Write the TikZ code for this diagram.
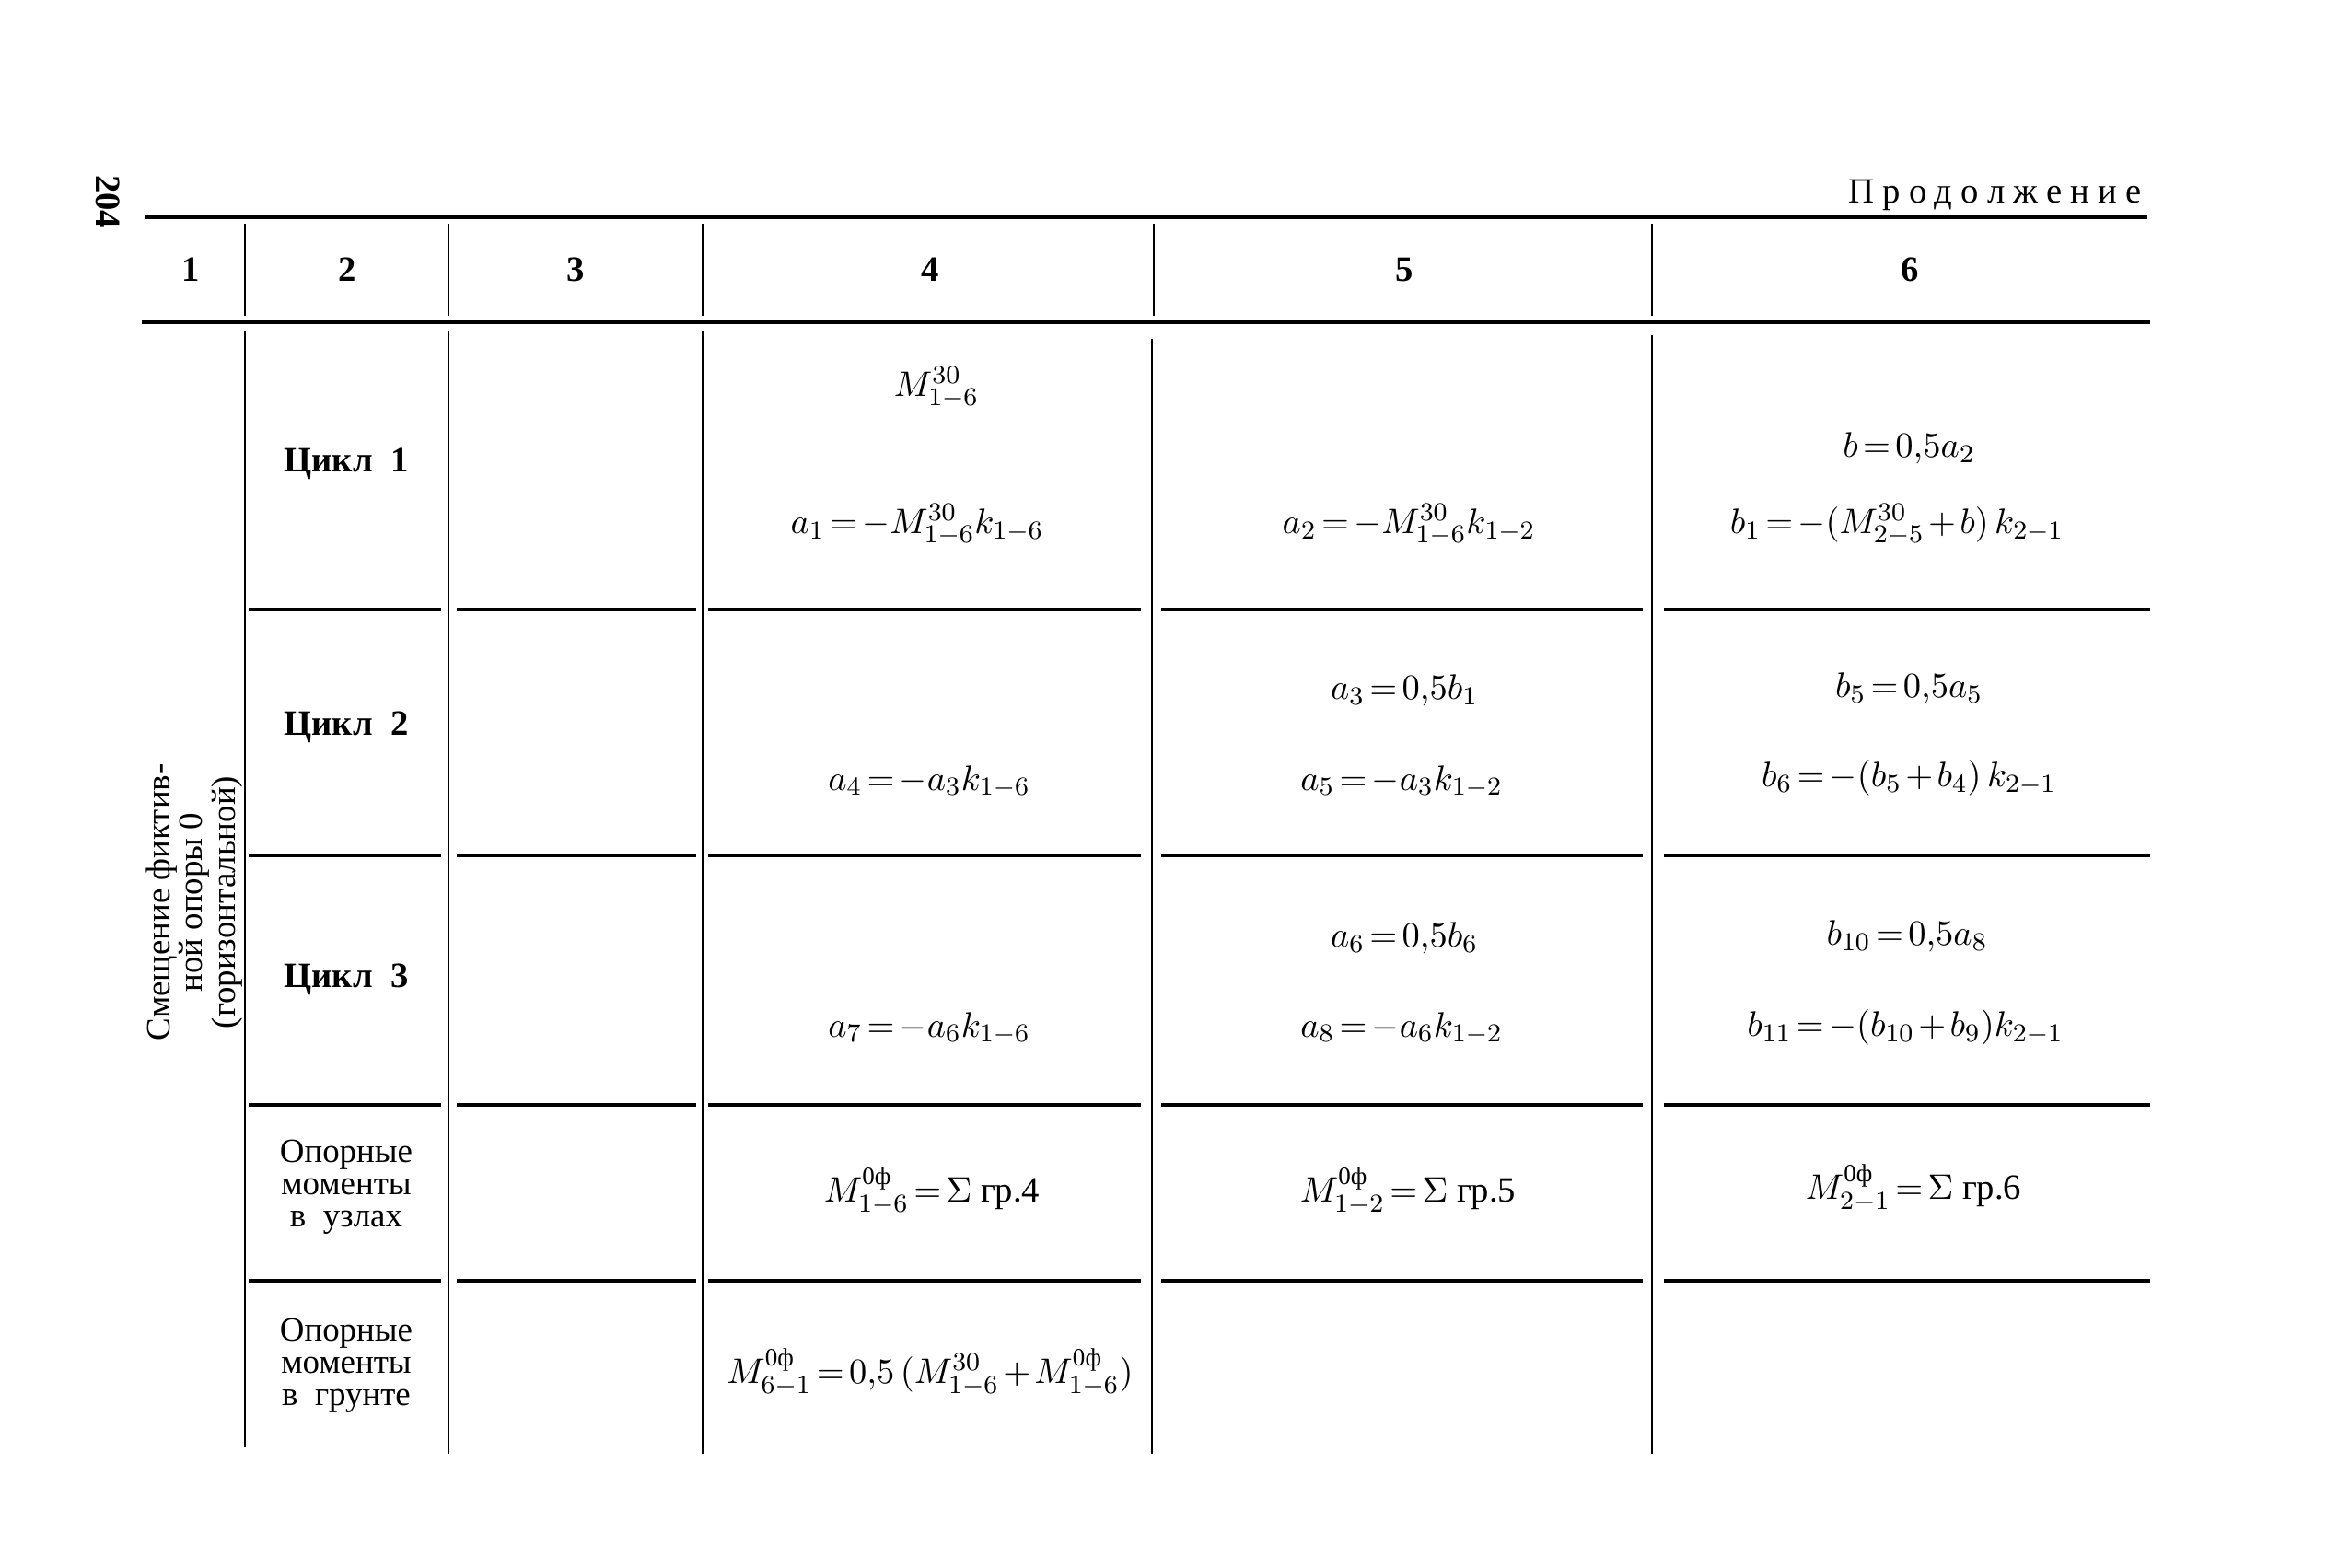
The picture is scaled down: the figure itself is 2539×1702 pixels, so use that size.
\documentclass[tikz,border=0pt]{standalone}
\usepackage{amsmath}
\usepackage{fontspec}
\setmainfont{Liberation Serif}
\usetikzlibrary{positioning}
\thickmuskip=2.5mu plus 1mu
\medmuskip=2mu plus 1mu

\begin{document}
\begin{tikzpicture}[x=0.1mm, y=-0.1mm, font=\fontsize{11}{10}\selectfont,
   rule/.style={line width=1.4pt},
   sep/.style={line width=1.3pt},
   vline/.style={line width=0.8pt},
   hdr/.style={font=\fontsize{11}{12}\selectfont\bfseries},
   lbl/.style={align=center, font=\fontsize{10.5}{10}\selectfont}]
   \useasboundingbox (0,0) rectangle (2539,1702);

   % head of the table
   \node (pg) [rotate=-90, font=\fontsize{11}{12}\selectfont\bfseries] at (117,219) {204};
   \node (cont) [anchor=east, font=\fontsize{11}{12}\selectfont\addfontfeature{LetterSpace=24}] at (2338,212) {Продолжение};
   \draw[rule] (157,236) -- (2332,236);
   \draw[rule] (154,350) -- (2335,350);
   \draw[vline] (266,243) -- (266,343) (487,243) -- (487,343) (763,243) -- (763,343)
                (1253,243) -- (1253,343) (1794,243) -- (1794,343);
   \begin{scope}[every node/.style={hdr}]
    \node (h1) at (207,293) {1};
    \node (h2) at (377,293) {2};
    \node (h3) at (625,293) {3};
    \node (h4) at (1010,293) {4};
    \node (h5) at (1525,293) {5};
    \node (h6) at (2074,293) {6};
   \end{scope}

   % body lines
   \draw[vline] (266,359) -- (266,1572) (487,359) -- (487,1579) (763,359) -- (763,1579)
                (1251,368) -- (1251,1579) (1794,364) -- (1794,1579);
   \draw[sep] (270,662) -- (479,662) (496,662) -- (756,662) (769,662) -- (1239,662)
              (1261,662) -- (1784,662) (1807,662) -- (2335,662);
   \draw[sep] (270,929) -- (479,929) (496,929) -- (756,929) (769,929) -- (1239,929)
              (1261,929) -- (1784,929) (1807,929) -- (2335,929);
   \draw[sep] (270,1200) -- (479,1200) (496,1200) -- (756,1200) (769,1200) -- (1239,1200)
              (1261,1200) -- (1784,1200) (1807,1200) -- (2335,1200);
   \draw[sep] (270,1391) -- (479,1391) (496,1391) -- (756,1391) (769,1391) -- (1239,1391)
              (1261,1391) -- (1784,1391) (1807,1391) -- (2335,1391);

   % columns 1 and 2
   \node (grp) [rotate=90, lbl] at (211,980) {Смещение фиктив-\\ной опоры 0\\(горизонтальной)};
   \node (r1) [hdr] at (376,504) {Цикл\ \ 1};
   \node (r2) [hdr] at (376,790) {Цикл\ \ 2};
   \node (r3) [hdr] at (376,1064) {Цикл\ \ 3};
   \node (r4) [lbl] at (376,1289) {Опорные\\моменты\\в\ \ узлах};
   \node (r5) [lbl] at (376,1483) {Опорные\\моменты\\в\ \ грунте};

   % column 4
   \node (f41) at (1017,421) {$M^{30}_{1-6}$};
   \node (f42) at (996,570) {$a_1=-M^{30}_{1-6}k_{1-6}$};
   \node (f43) at (1009,849) {$a_4=-a_3k_{1-6}$};
   \node (f44) at (1009,1117) {$a_7=-a_6k_{1-6}$};
   \node (f45) at (1012,1294) {$M^{\text{0ф}}_{1-6}=\Sigma\ \text{гр.4}$};
   \node (f46) at (1010,1491) {$M^{\text{0ф}}_{6-1}=0{,}5\,(M^{30}_{1-6}+M^{\text{0ф}}_{1-6})$};

   % column 5
   \node (f51) at (1530,570) {$a_2=-M^{30}_{1-6}k_{1-2}$};
   \node (f52) at (1525,750) {$a_3=0{,}5b_1$};
   \node (f53) at (1522,849) {$a_5=-a_3k_{1-2}$};
   \node (f54) at (1525,1019) {$a_6=0{,}5b_6$};
   \node (f55) at (1522,1117) {$a_8=-a_6k_{1-2}$};
   \node (f56) at (1529,1294) {$M^{\text{0ф}}_{1-2}=\Sigma\ \text{гр.5}$};

   % column 6
   \node (f61) at (2073,487) {$b=0{,}5a_2$};
   \node (f62) at (2060,570) {$b_1=-(M^{30}_{2-5}+b)\,k_{2-1}$};
   \node (f63) at (2073,748) {$b_5=0{,}5a_5$};
   \node (f64) at (2073,845) {$b_6=-(b_5+b_4)\,k_{2-1}$};
   \node (f65) at (2071,1017) {$b_{10}=0{,}5a_8$};
   \node (f66) at (2069,1116) {$b_{11}=-(b_{10}+b_9)k_{2-1}$};
   \node (f67) at (2078,1291) {$M^{\text{0ф}}_{2-1}=\Sigma\ \text{гр.6}$};
\end{tikzpicture}
\end{document}
